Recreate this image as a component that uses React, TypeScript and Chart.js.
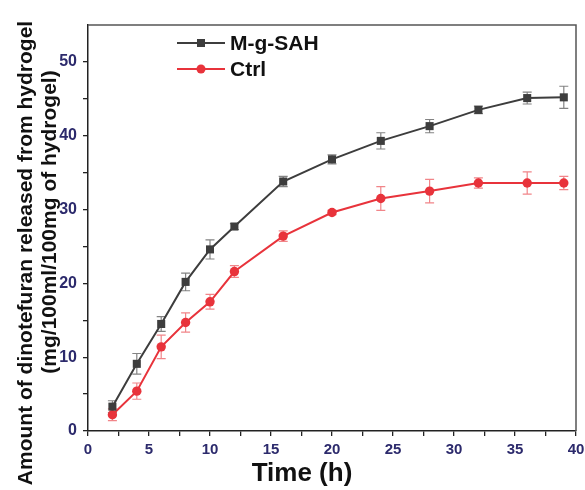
import React, { useEffect, useRef } from "react";
import { Chart, registerables } from "chart.js";

Chart.register(...registerables);

const timeHours = [2, 4, 6, 8, 10, 12, 16, 20, 24, 28, 32, 36, 39];
const mgSahValues = [3.3, 9.1, 14.5, 20.2, 24.6, 27.7, 33.8, 36.8, 39.3, 41.3, 43.5, 45.1, 45.2];
const mgSahErrors = [0.8, 1.4, 1.0, 1.2, 1.3, 0.4, 0.7, 0.6, 1.1, 0.9, 0.5, 0.8, 1.5];
const ctrlValues = [2.2, 5.4, 11.4, 14.7, 17.5, 21.6, 26.4, 29.6, 31.5, 32.5, 33.6, 33.6, 33.6];
const ctrlErrors = [0.8, 1.1, 1.6, 1.3, 1.0, 0.8, 0.7, 0.3, 1.6, 1.6, 0.7, 1.5, 0.9];
const seriesNames = ["M-g-SAH", "Ctrl"];
const xTitle = "Time (h)";
const yTitleLines = ["Amount of dinotefuran released from hydrogel", "(mg/100ml/100mg of hydrogel)"];

const GRAY = "#3d3d3d";
const RED = "#e8333b";
const NAVY = "#2c2a6c";
const FONT = "'Liberation Sans', Arial, sans-serif";

const errorSets = [
  { errs: mgSahErrors, color: "rgba(90,90,90,0.75)" },
  { errs: ctrlErrors, color: "rgba(232,51,59,0.6)" },
];

const decorPlugin = {
  id: "decor",
  beforeDatasetsDraw(chart: any) {
    const ctx = chart.ctx;
    const xs = chart.scales.x;
    const ys = chart.scales.y;
    ctx.save();
    errorSets.forEach((set, di) => {
      const ds = chart.data.datasets[di];
      ctx.strokeStyle = set.color;
      ctx.lineWidth = 1.2;
      ds.data.forEach((p: any, i: number) => {
        const px = xs.getPixelForValue(p.x);
        const yt = ys.getPixelForValue(p.y + set.errs[i]);
        const yb = ys.getPixelForValue(p.y - set.errs[i]);
        ctx.beginPath();
        ctx.moveTo(px, yt);
        ctx.lineTo(px, yb);
        ctx.moveTo(px - 4.5, yt);
        ctx.lineTo(px + 4.5, yt);
        ctx.moveTo(px - 4.5, yb);
        ctx.lineTo(px + 4.5, yb);
        ctx.stroke();
      });
    });
    ctx.restore();
  },
  afterDraw(chart: any) {
    const ctx = chart.ctx;
    const a = chart.chartArea;
    ctx.save();
    // frame top & right
    ctx.strokeStyle = "#555";
    ctx.lineWidth = 1.5;
    ctx.beginPath();
    ctx.moveTo(a.left, a.top);
    ctx.lineTo(a.right, a.top);
    ctx.lineTo(a.right, a.bottom);
    ctx.stroke();

    // legend
    const items = [
      { name: seriesNames[0], color: GRAY, style: "rect", y: 43 },
      { name: seriesNames[1], color: RED, style: "circle", y: 69 },
    ];
    items.forEach((it) => {
      ctx.strokeStyle = it.color;
      ctx.fillStyle = it.color;
      ctx.lineWidth = 2;
      ctx.beginPath();
      ctx.moveTo(177, it.y);
      ctx.lineTo(225, it.y);
      ctx.stroke();
      ctx.beginPath();
      if (it.style === "rect") ctx.rect(197, it.y - 4, 8, 8);
      else ctx.arc(201, it.y, 4.5, 0, Math.PI * 2);
      ctx.fill();
      ctx.fillStyle = "#111";
      ctx.font = `bold 21px ${FONT}`;
      ctx.textAlign = "left";
      ctx.textBaseline = "middle";
      ctx.fillText(it.name, 230, it.y + 1);
    });

    // x title
    ctx.fillStyle = "#111";
    ctx.font = `bold 26px ${FONT}`;
    ctx.textAlign = "center";
    ctx.textBaseline = "middle";
    ctx.fillText(xTitle, 302, 474);

    // y title
    ctx.font = `bold 21px ${FONT}`;
    ctx.save();
    ctx.translate(26, 253);
    ctx.rotate(-Math.PI / 2);
    ctx.fillText(yTitleLines[0], 0, 0);
    ctx.restore();
    ctx.save();
    ctx.translate(50, 222);
    ctx.rotate(-Math.PI / 2);
    ctx.fillText(yTitleLines[1], 0, 0);
    ctx.restore();
    ctx.restore();
  },
};

export default function App() {
  const ref = useRef<HTMLCanvasElement | null>(null);
  useEffect(() => {
    document.body.style.margin = "0";
    if (!ref.current) return;
    const chart = new Chart(ref.current, {
      type: "line",
      data: {
        datasets: [
          {
            label: seriesNames[0],
            data: timeHours.map((x, i) => ({ x, y: mgSahValues[i] })),
            borderColor: GRAY,
            backgroundColor: GRAY,
            borderWidth: 2,
            pointStyle: "rect",
            pointRadius: 5.7,
            pointBorderWidth: 0,
            tension: 0,
          },
          {
            label: seriesNames[1],
            data: timeHours.map((x, i) => ({ x, y: ctrlValues[i] })),
            borderColor: RED,
            backgroundColor: RED,
            borderWidth: 2,
            pointStyle: "circle",
            pointRadius: 4.7,
            pointBorderWidth: 0,
            tension: 0,
          },
        ],
      },
      options: {
        responsive: false,
        maintainAspectRatio: false,
        animation: false,
        layout: { padding: { top: 25, right: 9, left: 0, bottom: 0 } },
        plugins: { legend: { display: false }, tooltip: { enabled: false } },
        scales: {
          x: {
            type: "linear",
            min: 0,
            max: 40,
            afterFit: (s: any) => {
              s.height = 59;
              s.paddingRight = 0;
              s.paddingLeft = 0;
            },
            ticks: {
              stepSize: 2.5,
              autoSkip: false,
              maxRotation: 0,
              padding: 5,
              color: NAVY,
              font: { family: FONT, size: 15, weight: "bold" },
              callback: (v: any) => (Number(v) % 5 === 0 ? String(v) : ""),
            },
            grid: { drawOnChartArea: false, tickLength: 5, tickColor: "#222", lineWidth: 1.3 },
            border: { color: "#222", width: 1.5 },
          },
          y: {
            type: "linear",
            min: 0,
            max: 55,
            afterFit: (s: any) => {
              s.width = 88;
              s.paddingTop = 0;
              s.paddingBottom = 0;
            },
            ticks: {
              stepSize: 5,
              autoSkip: false,
              padding: 6,
              color: NAVY,
              font: { family: FONT, size: 16, weight: "bold" },
              callback: (v: any) => (Number(v) % 10 === 0 ? String(v) : ""),
            },
            grid: {
              drawOnChartArea: false,
              tickLength: 5,
              lineWidth: 1.3,
              tickColor: (c: any) => (c.tick && c.tick.value === 55 ? "rgba(0,0,0,0)" : "#222"),
            },
            border: { color: "#222", width: 1.5 },
          },
        },
      } as any,
      plugins: [decorPlugin],
    });
    return () => chart.destroy();
  }, []);
  return <canvas ref={ref} width={585} height={490} style={{ display: "block" }} />;
}
